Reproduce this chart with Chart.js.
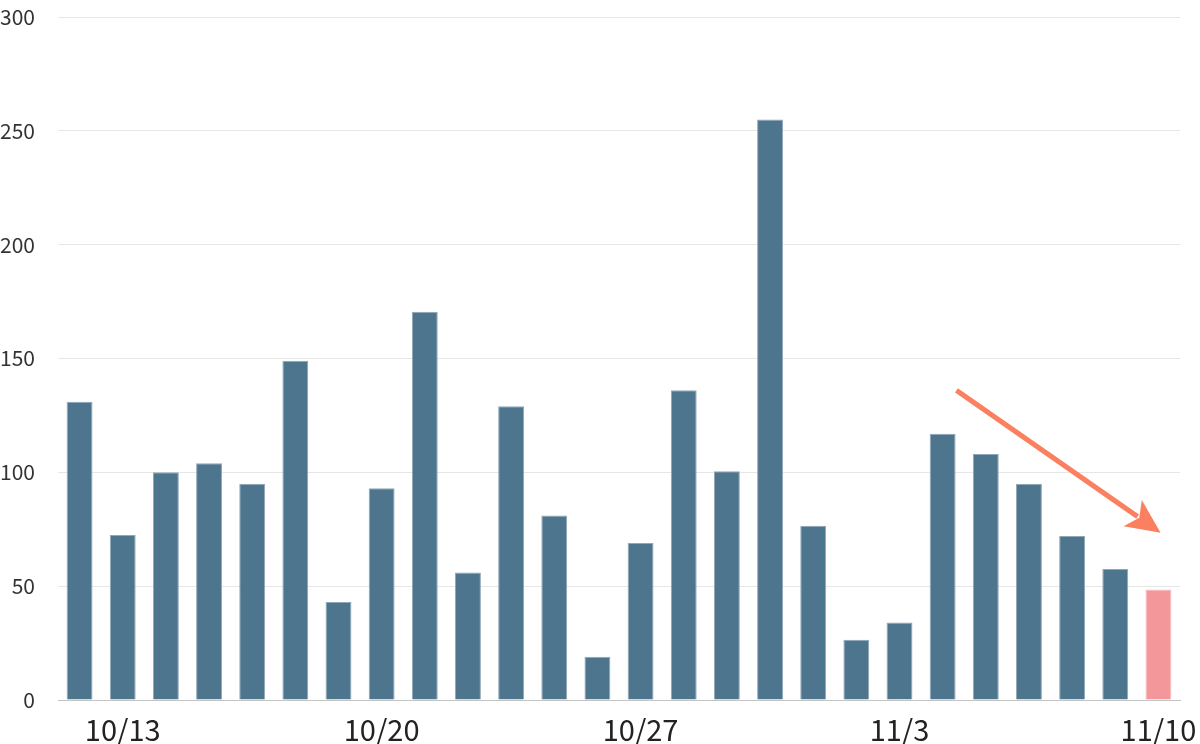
<!DOCTYPE html>
<html>
<head>
<meta charset="utf-8">
<script src="https://cdn.jsdelivr.net/npm/chart.js@4"></script>
<style>
    html, body { margin: 0; padding: 0; background: #ffffff; }
    #wrap { width: 1200px; height: 744px; }
</style>
</head>
<body>
<div id="wrap"><canvas id="barChart"></canvas></div>
<script>

// ===============================
// Data
// ===============================

const dates = [
    "10/12", "10/13", "10/14", "10/15", "10/16", "10/17", "10/18",
    "10/20", "10/21", "10/22", "10/23", "10/24", "10/25",
    "10/27", "10/28", "10/29", "10/30", "10/31", "11/1",
    "11/3", "11/4", "11/5", "11/6", "11/7", "11/8",
    "11/10"
];

const counts = [
    131, 72.5, 100, 104, 95, 149,
    43, 93, 170.5, 56, 129, 81,
    19, 69, 136, 100.5, 255, 76.5,
    26.5, 34, 117, 108, 95, 72,
    57.5, 48.5
];

const tickLabels = ["10/13", "10/20", "10/27", "11/3", "11/10"];

const yTicks = [0, 50, 100, 150, 200, 250, 300];

// trend arrow, in data units (bar index, value)
const trendArrow = { from: [20.32, 136], to: [25.05, 73.5] };

// ===============================
// Colours
// ===============================

const barColors = counts.map(function(v, i){
    return i === counts.length - 1 ? "#f4979a" : "#4e758e";
});

const barBorders = counts.map(function(v, i){
    return i === counts.length - 1 ? "#f7b9bb" : "#8fa7b8";
});

// ===============================
// Arrow plugin
// ===============================

const arrowPlugin = {
    id: "arrow",
    afterDatasetsDraw: function(chart){
        const ctx = chart.ctx;
        const x = chart.scales.x;
        const y = chart.scales.y;

        const x1 = x.getPixelForValue(trendArrow.from[0]);
        const y1 = y.getPixelForValue(trendArrow.from[1]);
        const x2 = x.getPixelForValue(trendArrow.to[0]);
        const y2 = y.getPixelForValue(trendArrow.to[1]);

        const ang = Math.atan2(y2 - y1, x2 - x1);
        const headLen = 34;
        const headHalf = 16;
        const bx = x2 - headLen * Math.cos(ang);
        const by = y2 - headLen * Math.sin(ang);

        ctx.save();
        ctx.strokeStyle = "#fa8060";
        ctx.fillStyle = "#fa8060";
        ctx.lineWidth = 5;
        ctx.beginPath();
        ctx.moveTo(x1, y1);
        ctx.lineTo(bx + 6 * Math.cos(ang), by + 6 * Math.sin(ang));
        ctx.stroke();

        ctx.beginPath();
        ctx.moveTo(x2, y2);
        ctx.lineTo(bx + headHalf * Math.sin(ang), by - headHalf * Math.cos(ang));
        ctx.lineTo(bx + 8 * Math.cos(ang), by + 8 * Math.sin(ang));
        ctx.lineTo(bx - headHalf * Math.sin(ang), by + headHalf * Math.cos(ang));
        ctx.closePath();
        ctx.fill();
        ctx.restore();
    }
};

// ===============================
// Bar Chart
// ===============================

const bar = document.getElementById("barChart");

new Chart(bar, {

    type: "bar",

    data: {
        labels: dates,
        datasets: [{
            data: counts,
            backgroundColor: barColors,
            borderColor: barBorders,
            borderWidth: 1,
            categoryPercentage: 1,
            barPercentage: 0.6
        }]
    },

    plugins: [arrowPlugin],

    options: {
        responsive: true,
        maintainAspectRatio: false,
        animation: false,
        layout: {
            padding: { right: 20, top: 0, left: 0, bottom: 0 }
        },
        plugins: {
            legend: { display: false },
            tooltip: { enabled: false }
        },
        scales: {
            x: {
                grid: { display: false, drawTicks: false },
                border: { display: true, color: "#c4c4c4", width: 1 },
                afterFit: function(axis){
                    axis.height = 44;
                    axis.paddingLeft = 0;
                    axis.paddingRight = 0;
                },
                ticks: {
                    autoSkip: false,
                    maxRotation: 0,
                    padding: 15,
                    color: "#222222",
                    font: { family: "'Noto Sans CJK JP'", size: 29, lineHeight: 1 },
                    callback: function(value){
                        const label = this.getLabelForValue(value);
                        return tickLabels.includes(label) ? label : "";
                    }
                }
            },
            y: {
                min: 0,
                max: 300,
                afterBuildTicks: function(axis){
                    axis.ticks = yTicks.map(function(v){ return { value: v }; });
                },
                afterFit: function(axis){
                    axis.width = 58;
                    axis.paddingTop = 17;
                    axis.paddingBottom = 0;
                },
                grid: { color: "#e6e6e6", drawTicks: false },
                border: { display: false },
                ticks: {
                    padding: 23,
                    color: "#333333",
                    font: { family: "'Noto Sans CJK JP'", size: 21 }
                }
            }
        }
    }

});

</script>
</body>
</html>
